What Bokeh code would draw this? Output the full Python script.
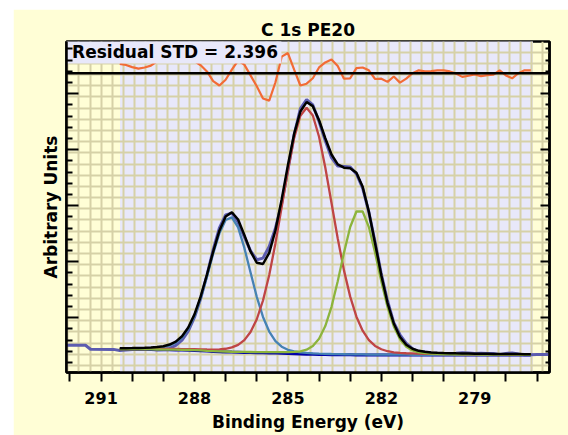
import numpy as np
from bokeh.plotting import figure
from bokeh.models import Range1d, FixedTicker, Span, Label, LinearAxis, Spacer
from bokeh.layouts import column, row
from bokeh.embed import file_html
from bokeh.resources import INLINE

# ---------------- data ----------------
title_text = "C 1s PE20"
x_label = "Binding Energy (eV)"
y_label = "Arbitrary Units"
std_label = "Residual STD = 2.396"

x_ticks = [291, 288, 285, 282, 279]
x_minor = [292, 290, 289, 287, 286, 284, 283, 281, 280, 278, 277]

# fit region (binding energy)
region_hi = 290.39
region_lo = 277.13

be = [290.4, 290.2, 290.0, 289.8, 289.6, 289.4, 289.2, 289.0, 288.8, 288.6,
      288.4, 288.2, 288.0, 287.8, 287.6, 287.4, 287.2, 287.0, 286.8, 286.6,
      286.4, 286.2, 286.0, 285.8, 285.6, 285.4, 285.2, 285.0, 284.8, 284.6,
      284.4, 284.2, 284.0, 283.8, 283.6, 283.4, 283.2, 283.0, 282.8, 282.6,
      282.4, 282.2, 282.0, 281.8, 281.6, 281.4, 281.2, 281.0, 280.8, 280.6,
      280.4, 280.2, 280.0, 279.8, 279.6, 279.4, 279.2, 279.0, 278.8, 278.6,
      278.4, 278.2, 278.0, 277.8, 277.6, 277.4, 277.2]

background = [431, 431, 430, 430, 429, 429, 428, 427, 426, 424,
              421, 418, 414, 409, 403, 397, 392, 388, 384, 381,
              378, 376, 374, 372, 370, 367, 364, 360, 356, 352,
              348, 345, 342, 340, 338, 337, 336, 335, 334, 334,
              333, 333, 333, 333, 333, 333, 333, 333, 333, 333,
              333, 333, 333, 333, 333, 333, 333, 333, 333, 333,
              333, 333, 333, 333, 333, 333, 333]

comp_blue = [12, 13, 15, 17, 20, 24, 32, 46, 75, 128,
             224, 381, 618, 939, 1330, 1744, 2113, 2356, 2407, 2230,
             1871, 1429, 998, 640, 381, 214, 117, 66, 41, 28,
             22, 18, 16, 14, 12, 11, 10, 9, 8, 8,
             7, 7, 6, 6, 5, 5, 5, 4, 4, 4,
             4, 4, 3, 3, 3, 3, 3, 3, 3, 3,
             3, 3, 3, 3, 3, 3, 3]

comp_red = [8, 9, 9, 10, 11, 12, 13, 14, 15, 16,
            18, 20, 22, 25, 28, 33, 42, 56, 84, 133,
            220, 367, 597, 934, 1392, 1963, 2612, 3271, 3852, 4255,
            4400, 4266, 3889, 3341, 2709, 2077, 1508, 1040, 683, 432,
            266, 162, 102, 67, 48, 37, 31, 27, 23, 21,
            19, 17, 16, 15, 14, 13, 12, 11, 10, 10,
            9, 9, 8, 8, 8, 7, 7]

comp_green = [2, 2, 2, 2, 3, 3, 3, 3, 3, 4,
              4, 4, 4, 5, 5, 6, 6, 7, 7, 8,
              9, 10, 11, 12, 14, 16, 19, 23, 32, 47,
              80, 148, 280, 509, 855, 1312, 1824, 2284, 2562, 2562,
              2284, 1824, 1312, 855, 509, 280, 148, 80, 47, 32,
              23, 19, 16, 14, 12, 11, 10, 9, 8, 7,
              7, 6, 6, 5, 5, 4, 4]

residual = [2.6, 2.3, 1.7, 1.3, 1.6, 2.1, 3.3, 4.0, 4.6, 4.6,
            4.5, 4.2, 3.4, 2.2, 0.5, -2.2, -3.4, -1.8, 1.0, 3.5,
            2.4, -0.6, -3.6, -7.0, -7.6, -2.5, 4.6, 5.6, 1.0, -3.4,
            -2.9, -1.4, 1.6, 3.0, 3.8, 2.0, -1.5, -1.4, 1.4, 1.6,
            0.8, -1.6, -1.5, -2.4, -0.9, -2.6, -1.5, 0.0, 0.8, 0.5,
            0.6, 0.8, 0.8, 0.5, -0.1, -1.0, -0.7, -0.3, -0.8, -0.5,
            -0.4, 0.8, -0.6, -1.4, 0.0, 0.8, 0.8]

# raw spectrum outside the fit region
raw_left_be = [292.11, 291.5, 291.34, 290.6]
raw_left = [506, 506, 435, 433]
raw_right_be = [277.0, 276.6]
raw_right = [340, 340]

# ---------------- derived series ----------------
be_a = np.array(be, dtype=float)
bg_a = np.array(background, dtype=float)
blue_a = bg_a + np.array(comp_blue)
red_a = bg_a + np.array(comp_red)
green_a = bg_a + np.array(comp_green)
envelope = bg_a + np.array(comp_blue) + np.array(comp_red) + np.array(comp_green)
res_a = np.array(residual)
data_in = envelope - 15.0 * res_a
raw_be = np.concatenate([raw_left_be, be_a, raw_right_be])
raw = np.concatenate([raw_left, data_in, raw_right])

RES_ZERO = 5365.0      # position of residual zero line
RES_SCALE = 64.4       # residual plotting scale
res_y = RES_ZERO + RES_SCALE * res_a

# ---------------- styling ----------------
YELLOW = "#FFFED6"
LAV = "#E8E8FA"
GRID = "#D6D1A7"
FONT = "DejaVu Sans"

X0, X1 = 292.11, 276.60
Y0, Y1 = 20, 5932

p = figure(width=555, height=426, output_backend="svg", toolbar_location=None,
           x_range=Range1d(X0, X1), y_range=Range1d(Y0, Y1),
           min_border_left=53, min_border_right=19, min_border_top=32,
           min_border_bottom=63,
           background_fill_color=YELLOW, border_fill_color=YELLOW,
           outline_line_color="black", outline_line_width=2.5)

p.title.text = title_text
p.title.align = "center"
p.title.text_font = FONT
p.title.text_font_style = "bold"
p.title.text_font_size = "17px"
p.title.text_color = "black"
p.title.standoff = 4

# grid (graph paper)
gx_step = 0.35464
xg = [291 - gx_step * k for k in range(-3, 41)]
yg = [144 + 200 * k for k in range(0, 29)]
p.xgrid.ticker = FixedTicker(ticks=xg)
p.ygrid.ticker = FixedTicker(ticks=yg)
for g in (p.xgrid[0], p.ygrid[0]):
    g.grid_line_color = GRID
    g.grid_line_width = 2

# axes
xa = p.xaxis[0]
xa.ticker = FixedTicker(ticks=x_ticks, minor_ticks=x_minor)
xa.axis_label = x_label
xa.major_tick_in = 0
xa.major_tick_out = 9
xa.minor_tick_in = 0
xa.minor_tick_out = 9
xa.major_tick_line_width = 2
xa.minor_tick_line_width = 2
xa.axis_line_width = 2.5
xa.major_label_text_font = FONT
xa.major_label_text_font_style = "bold"
xa.major_label_text_font_size = "16px"
xa.major_label_text_color = "black"
xa.major_label_standoff = 10
xa.axis_label_text_font = FONT
xa.axis_label_text_font_style = "bold"
xa.axis_label_text_font_size = "17px"
xa.axis_label_text_color = "black"
xa.axis_label_standoff = 5

y_major = [1000, 2000, 3000, 4000, 5000]
y_minor = [200 * k for k in range(1, 30) if k % 5 != 0]

ya = p.yaxis[0]
ya.ticker = FixedTicker(ticks=y_major, minor_ticks=y_minor)
ya.axis_label = y_label
ya.major_tick_in = 12
ya.major_tick_out = 0
ya.minor_tick_in = 6
ya.minor_tick_out = 0
ya.major_tick_line_width = 2
ya.minor_tick_line_width = 2
ya.axis_line_width = 2.5
ya.major_label_text_font_size = "0px"
ya.major_label_text_color = None
ya.major_label_text_alpha = 0
ya.major_label_standoff = 0
ya.axis_label_text_font = FONT
ya.axis_label_text_font_style = "bold"
ya.axis_label_text_font_size = "17px"
ya.axis_label_text_color = "black"
ya.axis_label_standoff = 6

ra = LinearAxis(ticker=FixedTicker(ticks=y_major, minor_ticks=y_minor),
                major_label_text_font_size="0px", major_label_text_color=None,
                major_label_text_alpha=0, major_label_standoff=0,
                major_tick_in=9, major_tick_out=0, minor_tick_in=4,
                minor_tick_out=0, major_tick_line_width=2,
                minor_tick_line_width=2, axis_line_width=2.5)
p.add_layout(ra, "right")

# fit-region shading under the grid
p.quad(left=[region_hi], right=[region_lo], bottom=[Y0 - 1000], top=[Y1 + 1000],
       fill_color=LAV, line_color=None, level="image")

# curves
p.line(raw_be, raw, line_color="#5C5CB0", line_width=3)
p.line(be_a, bg_a, line_color="#0000AA", line_width=3)
p.line(be_a, blue_a, line_color="#4682B4", line_width=2.3)
p.line(be_a, red_a, line_color="#BF4545", line_width=2.3)
p.line(be_a, green_a, line_color="#8CB43C", line_width=2.3)
p.line(be_a, envelope, line_color="black", line_width=2.5)
p.line(be_a, res_y, line_color="#F26B35", line_width=2.2)

# residual STD box and label
p.quad(left=[X0 + 1], right=[285.21], bottom=[5539], top=[Y1 + 1000],
       fill_color=LAV, line_color=None)
p.add_layout(Label(x=291.93, y=5744, text=std_label, text_baseline="middle",
                   text_font=FONT, text_font_style="bold",
                   text_font_size="17px", text_color="black"))
p.add_layout(Span(location=RES_ZERO, dimension="width", line_color="black",
                  line_width=2.5))

layout = column(Spacer(height=9), row(Spacer(width=13), p))
open("out.html", "w").write(file_html(layout, INLINE))
